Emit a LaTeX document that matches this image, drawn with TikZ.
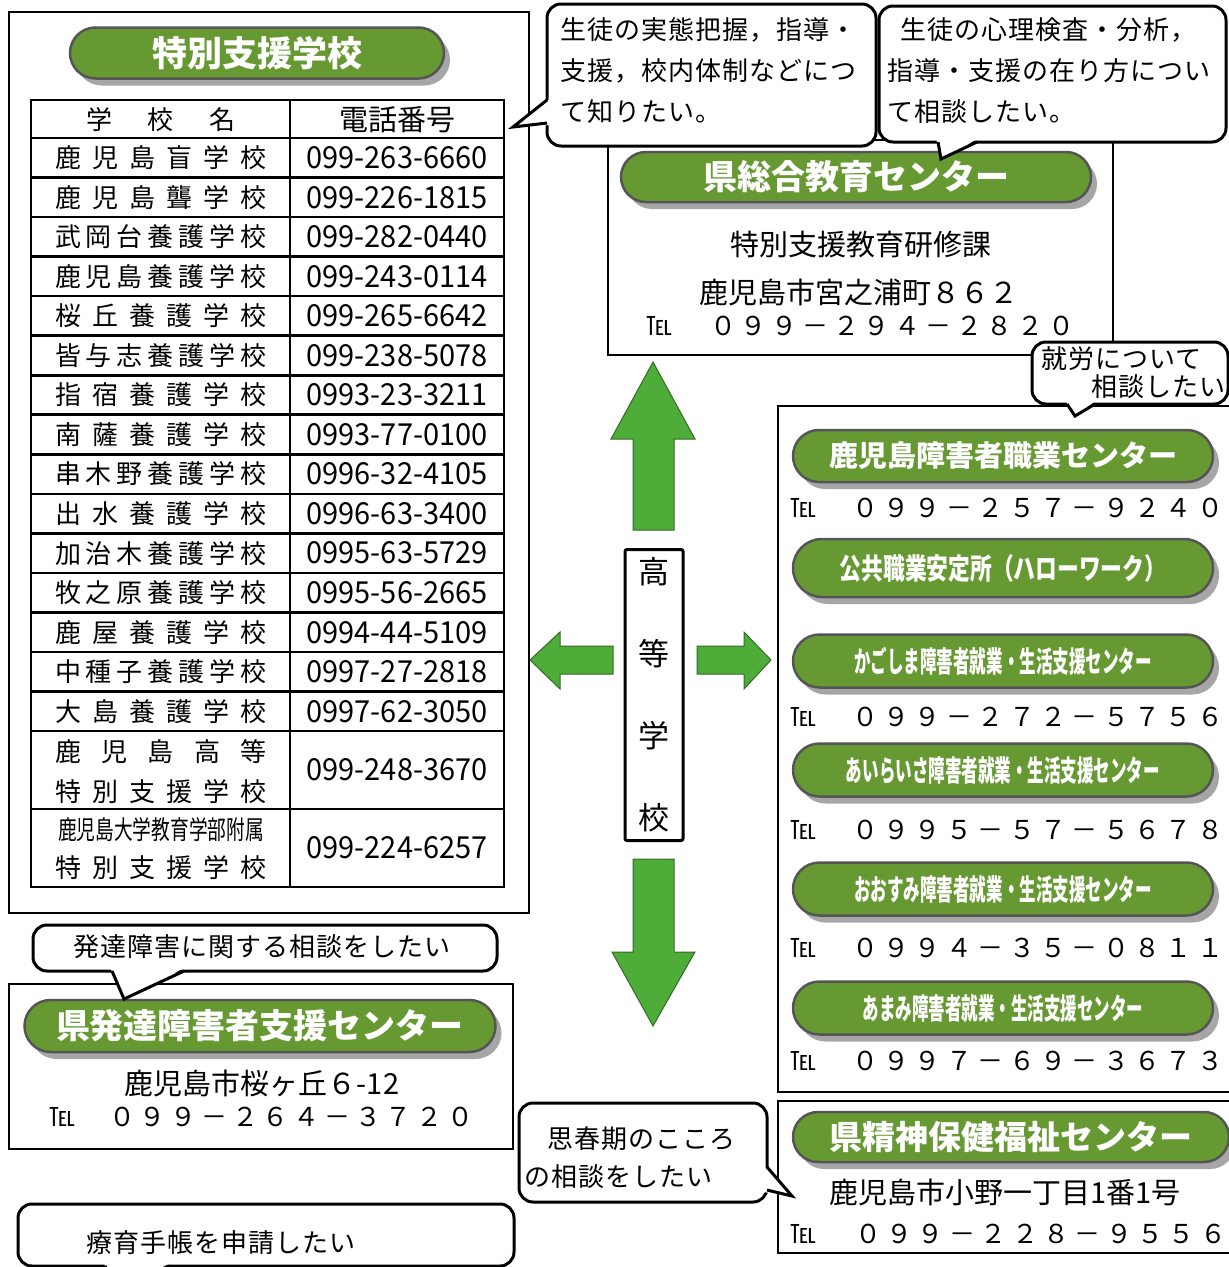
\documentclass[tikz,border=0pt]{standalone}
\usepackage{fontspec}
\setmainfont{Noto Sans CJK JP}
\usetikzlibrary{shapes.misc}
\usetikzlibrary{shadows}

\definecolor{leaf}{RGB}{103,153,51}
\definecolor{rim}{RGB}{85,85,85}
\definecolor{grass}{RGB}{78,172,56}
\definecolor{grassrim}{RGB}{55,105,40}

\newcommand\spread[2]{\makebox[#1][s]{#2}}
\newcommand\tblno[1]{\resizebox{181pt}{22pt}{#1}}

\tikzset{
    pill/.style={rounded rectangle, draw=rim, line width=2.5pt, fill=leaf, text=white,
        inner sep=0pt, font=\bfseries\fontsize{34}{34}\selectfont,
        drop shadow={shadow xshift=6pt, shadow yshift=-7pt, fill=black!35, opacity=1, draw=none}},
    boxline/.style={line width=1.6pt},
    say/.style={line width=3pt, fill=white, rounded corners=14pt},
    tailline/.style={line width=3pt, line join=miter},
    saytext/.style={anchor=west, inner sep=0pt,
        font=\fontsize{26}{26}\selectfont\addfontfeature{LetterSpace=4}},
    cell/.style={inner sep=0pt, font=\fontsize{26}{26}\selectfont},
    plaintext/.style={inner sep=0pt, font=\fontsize{29}{29}\selectfont},
    telmark/.style={anchor=west, inner sep=0pt, font=\fontsize{26}{26}\selectfont},
    telno/.style={anchor=west, inner sep=0pt, font=\fontsize{26}{26}\selectfont},
    bigarrow/.style={fill=grass, draw=grassrim, line width=1pt, line join=miter},
}

\begin{document}
\begin{tikzpicture}[x=1pt, y=-1pt]
                    \useasboundingbox (0,0) rectangle (1229,1267);

                    % schools
                    \draw[boxline] (9,12) rectangle (529,913);
                    \node[pill, minimum width=374pt, minimum height=51pt, font=\bfseries\fontsize{35}{35}\selectfont] (P1) at (257,53) {特別支援学校};

                    \draw[line width=2.2pt] (31,100) rectangle (504,887);
                    \draw[line width=2pt] (290,100) -- (290,887);
                    \foreach \y in {138,177.5,217.1,256.6,296.1,335.7,375.2,414.7,454.2,493.8,533.3,572.8,612.4,651.9,691.4,731,809}
                        \draw[line width=2.6pt] (31,\y) -- (504,\y);

                    \node[cell] (H1) at (161,120) {\spread{150pt}{学 校 名}};
                    \node[plaintext] (H2) at (397,120) {電話番号};

                    \node[cell] (N1) at (161,157.8) {\spread{212pt}{鹿 児 島 盲 学 校}};
                    \node[cell] (T1) at (397,157.8) {\tblno{099-263-6660}};
                    \node[cell] (N2) at (161,197.3) {\spread{212pt}{鹿 児 島 聾 学 校}};
                    \node[cell] (T2) at (397,197.3) {\tblno{099-226-1815}};
                    \node[cell] (N3) at (161,236.8) {\spread{212pt}{武 岡 台 養 護 学 校}};
                    \node[cell] (T3) at (397,236.8) {\tblno{099-282-0440}};
                    \node[cell] (N4) at (161,276.4) {\spread{212pt}{鹿 児 島 養 護 学 校}};
                    \node[cell] (T4) at (397,276.4) {\tblno{099-243-0114}};
                    \node[cell] (N5) at (161,315.9) {\spread{212pt}{桜 丘 養 護 学 校}};
                    \node[cell] (T5) at (397,315.9) {\tblno{099-265-6642}};
                    \node[cell] (N6) at (161,355.4) {\spread{212pt}{皆 与 志 養 護 学 校}};
                    \node[cell] (T6) at (397,355.4) {\tblno{099-238-5078}};
                    \node[cell] (N7) at (161,395.0) {\spread{212pt}{指 宿 養 護 学 校}};
                    \node[cell] (T7) at (397,395.0) {\tblno{0993-23-3211}};
                    \node[cell] (N8) at (161,434.5) {\spread{212pt}{南 薩 養 護 学 校}};
                    \node[cell] (T8) at (397,434.5) {\tblno{0993-77-0100}};
                    \node[cell] (N9) at (161,474.0) {\spread{212pt}{串 木 野 養 護 学 校}};
                    \node[cell] (T9) at (397,474.0) {\tblno{0996-32-4105}};
                    \node[cell] (N10) at (161,513.6) {\spread{212pt}{出 水 養 護 学 校}};
                    \node[cell] (T10) at (397,513.6) {\tblno{0996-63-3400}};
                    \node[cell] (N11) at (161,553.1) {\spread{212pt}{加 治 木 養 護 学 校}};
                    \node[cell] (T11) at (397,553.1) {\tblno{0995-63-5729}};
                    \node[cell] (N12) at (161,592.7) {\spread{212pt}{牧 之 原 養 護 学 校}};
                    \node[cell] (T12) at (397,592.7) {\tblno{0995-56-2665}};
                    \node[cell] (N13) at (161,632.2) {\spread{212pt}{鹿 屋 養 護 学 校}};
                    \node[cell] (T13) at (397,632.2) {\tblno{0994-44-5109}};
                    \node[cell] (N14) at (161,671.7) {\spread{212pt}{中 種 子 養 護 学 校}};
                    \node[cell] (T14) at (397,671.7) {\tblno{0997-27-2818}};
                    \node[cell] (N15) at (161,711.2) {\spread{212pt}{大 島 養 護 学 校}};
                    \node[cell] (T15) at (397,711.2) {\tblno{0997-62-3050}};
                    \node[cell] (N16a) at (161,752) {\spread{212pt}{鹿 児 島 高 等}};
                    \node[cell] (N16b) at (161,792) {\spread{212pt}{特 別 支 援 学 校}};
                    \node[cell] (T16) at (397,770) {\tblno{099-248-3670}};
                    \node[cell] (N17a) at (161,830) {\scalebox{0.72}[1]{鹿児島大学教育学部附属}};
                    \node[cell] (N17b) at (161,868) {\spread{212pt}{特 別 支 援 学 校}};
                    \node[cell] (T17) at (397,848) {\tblno{099-224-6257}};

                    % education centre
                    \draw[boxline] (608,140) rectangle (1113,355);
                    \node[pill, minimum width=470pt, minimum height=50pt] (P2) at (856,177) {県総合教育センター};
                    \node[plaintext] (C1) at (861,245) {特別支援教育研修課};
                    \node[plaintext] (C2) at (859,292) {鹿児島市宮之浦町８６２};
                    \node[telmark] (C3) at (646,326) {℡};
                    \node[telno] (C4) at (710,326) {\spread{364pt}{０ ９ ９ － ２ ９ ４ － ２ ８ ２ ０}};

                    % employment
                    \draw[boxline] (778,406) rectangle (1240,1092);
                    \node[pill, minimum width=420pt, minimum height=52pt, font=\bfseries\fontsize{29}{29}\selectfont] (P3) at (1003,456) {鹿児島障害者職業センター};
                    \node[telmark] (R3a) at (790,508) {℡};
                    \node[telno] (R3b) at (852,508) {\spread{371pt}{０ ９ ９ － ２ ５ ７ － ９ ２ ４ ０}};
                    \node[pill, minimum width=420pt, minimum height=58pt, font=\bfseries\fontsize{29}{29}\selectfont] (P4) at (1003,568) {\scalebox{0.75}[1]{公共職業安定所（ハローワーク）}};
                    \node[pill, minimum width=420pt, minimum height=53pt, font=\bfseries\fontsize{29}{29}\selectfont] (P5) at (1003,661) {\scalebox{0.57}[1]{かごしま障害者就業・生活支援センター}};
                    \node[telmark] (R5a) at (790,717) {℡};
                    \node[telno] (R5b) at (852,717) {\spread{371pt}{０ ９ ９ － ２ ７ ２ － ５ ７ ５ ６}};
                    \node[pill, minimum width=420pt, minimum height=53pt, font=\bfseries\fontsize{29}{29}\selectfont] (P6) at (1003,770) {\scalebox{0.57}[1]{あいらいさ障害者就業・生活支援センター}};
                    \node[telmark] (R6a) at (790,830) {℡};
                    \node[telno] (R6b) at (852,830) {\spread{371pt}{０ ９ ９ ５ － ５ ７ － ５ ６ ７ ８}};
                    \node[pill, minimum width=420pt, minimum height=53pt, font=\bfseries\fontsize{29}{29}\selectfont] (P7) at (1003,889) {\scalebox{0.57}[1]{おおすみ障害者就業・生活支援センター}};
                    \node[telmark] (R7a) at (790,948) {℡};
                    \node[telno] (R7b) at (852,948) {\spread{371pt}{０ ９ ９ ４ － ３ ５ － ０ ８ １ １}};
                    \node[pill, minimum width=420pt, minimum height=53pt, font=\bfseries\fontsize{29}{29}\selectfont] (P8) at (1003,1008) {\scalebox{0.57}[1]{あまみ障害者就業・生活支援センター}};
                    \node[telmark] (R8a) at (790,1061) {℡};
                    \node[telno] (R8b) at (852,1061) {\spread{371pt}{０ ９ ９ ７ － ６ ９ － ３ ６ ７ ３}};

                    % mental health
                    \draw[boxline] (778,1101) rectangle (1240,1253);
                    \node[pill, minimum width=436pt, minimum height=50pt, font=\bfseries\fontsize{33}{33}\selectfont] (P10) at (1011,1137) {県精神保健福祉センター};
                    \node[plaintext] (M1) at (1005,1192) {鹿児島市小野一丁目1番1号};
                    \node[telmark] (M2) at (790,1234) {℡};
                    \node[telno] (M3) at (855,1234) {\spread{371pt}{０ ９ ９ － ２ ２ ８ － ９ ５ ５ ６}};

                    % developmental support
                    \draw[boxline] (9,984) rectangle (513,1149);
                    \node[pill, minimum width=471pt, minimum height=52pt] (P9) at (260,1026) {県発達障害者支援センター};
                    \node[plaintext] (D1) at (262,1083) {鹿児島市桜ヶ丘６-12};
                    \node[telmark] (D2) at (49,1117) {℡};
                    \node[telno] (D3) at (109,1117) {\spread{364pt}{０ ９ ９ － ２ ６ ４ － ３ ７ ２ ０}};

                    % high school
                    \node[draw, line width=3pt, rounded corners=2pt, minimum width=58pt, minimum height=291pt,
                          align=center, font=\fontsize{31}{82}\selectfont] (HS) at (654,695) {高\\等\\学\\校};
                    \draw[bigarrow] (653,362) -- (695,439) -- (674,439) -- (674,530) -- (633,530) -- (633,439) -- (611,439) -- cycle;
                    \draw[bigarrow] (653,1026) -- (695,952) -- (674,952) -- (674,859) -- (633,859) -- (633,952) -- (612,952) -- cycle;
                    \draw[bigarrow] (530,660) -- (560,632) -- (560,646) -- (613,646) -- (613,674) -- (560,674) -- (560,689) -- cycle;
                    \draw[bigarrow] (771,660) -- (744,632) -- (744,646) -- (697,646) -- (697,674) -- (744,674) -- (744,689) -- cycle;

                    % bubbles
                    \draw[say] (547,4) rectangle (876,146);
                    \fill[white] (551,98) -- (513,127) -- (551,125) -- cycle;
                    \draw[tailline] (547,100) -- (513,127) -- (547,123);
                    \node[saytext] (S1a) at (560,30) {生徒の実態把握，指導・};
                    \node[saytext] (S1b) at (560,71) {支援，校内体制などにつ};
                    \node[saytext] (S1c) at (560,112) {て知りたい。};

                    \draw[say] (879,6) rectangle (1226,142);
                    \fill[white] (936,138) -- (941,159) -- (979,138) -- cycle;
                    \draw[tailline] (938,142) -- (941,159) -- (977,142);
                    \node[saytext] (S2a) at (900,30) {生徒の心理検査・分析，};
                    \node[saytext] (S2b) at (887,71) {指導・支援の在り方につい};
                    \node[saytext] (S2c) at (887,112) {て相談したい。};

                    \draw[say] (1032,342) rectangle (1228,404);
                    \fill[white] (1065,400) -- (1075,416) -- (1097,400) -- cycle;
                    \draw[tailline] (1067,404) -- (1075,416) -- (1095,404);
                    \node[saytext] (S3a) at (1041,359) {就労について};
                    \node[saytext, anchor=east] (S3b) at (1226,387) {相談したい};

                    \draw[say] (33,925) rectangle (497,971);
                    \fill[white] (110,967) -- (124,999) -- (186,967) -- cycle;
                    \draw[tailline] (112,971) -- (124,999) -- (184,971);
                    \node[saytext, anchor=center] (S4) at (262,947) {発達障害に関する相談をしたい};

                    \draw[say] (519,1103) rectangle (767,1202);
                    \fill[white] (763,1165) -- (792,1196) -- (763,1192) -- cycle;
                    \draw[tailline] (767,1167) -- (792,1196) -- (767,1190);
                    \node[saytext] (S5a) at (547,1139) {思春期のこころ};
                    \node[saytext] (S5b) at (524,1177) {の相談をしたい};

                    \draw[say] (18,1204) rectangle (514,1266);
                    \fill[white] (103,1262) -- (120,1290) -- (172,1262) -- cycle;
                    \draw[tailline] (105,1266) -- (120,1290) -- (170,1266);
                    \node[saytext] (S6) at (86,1243) {療育手帳を申請したい};
\end{tikzpicture}
\end{document}
